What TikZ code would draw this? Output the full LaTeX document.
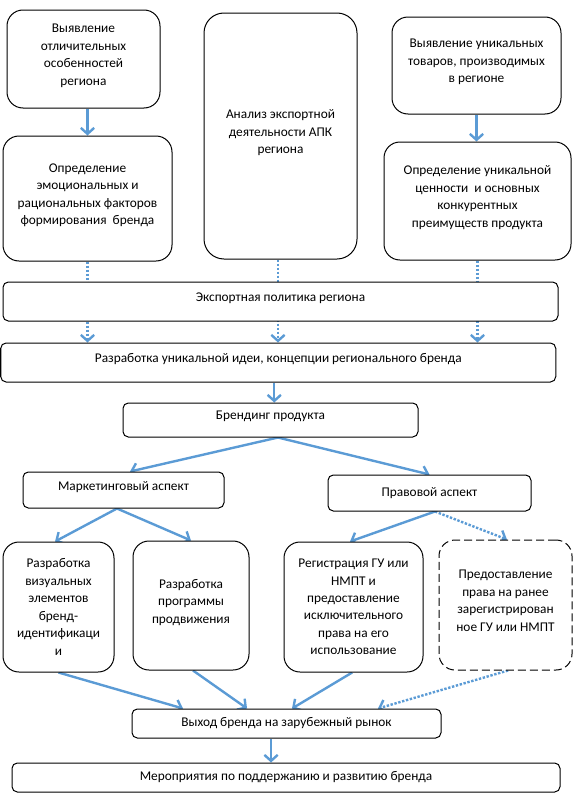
\documentclass[tikz,border=0pt]{standalone}
\usepackage{fontspec}
\setmainfont{Carlito}
\usetikzlibrary{arrows.meta,backgrounds}
\definecolor{arrblue}{RGB}{91,155,213}
\begin{document}
\begin{tikzpicture}[x=0.75pt,y=-0.75pt,
  sz/.style 2 args={minimum width=#1*0.75pt, minimum height=#2*0.75pt},
  box/.style={draw=black, line width=0.75pt, fill=white, align=center, inner sep=0pt,
    font=\fontsize{10pt}{13.1pt}\selectfont},
  txtup/.style={execute at end node={\rule[-6.5pt]{0pt}{0pt}}},
  rbig/.style={rounded corners=12pt},
  rtall/.style={rounded corners=15pt},
  rsmall/.style={rounded corners=4pt},
  dashbox/.style={dash pattern=on 6pt off 3pt},
  conn/.style={draw=arrblue, line width=1.8pt, -{Straight Barb[length=4.5pt,width=10pt]}},
  dotconn/.style={conn, dash pattern=on 1.8pt off 1.2pt}]
\useasboundingbox (0,0) rectangle (580,796);
% top row
\node[box,txtup,rbig,sz={153}{98}] (n1) at (83.5,59) {Выявление\\отличительных\\особенностей\\региона};
\node[box,txtup,rbig,sz={169}{125}] (n2) at (87.5,198.5) {Определение\\эмоциональных и\\рациональных факторов\\формирования\ \ бренда};
\node[box,txtup,rtall,sz={153}{246}] (n3) at (280.5,136) {Анализ экспортной\\деятельности АПК\\региона};
\node[box,txtup,rbig,sz={169}{97}] (n4) at (476.5,65.5) {Выявление уникальных\\товаров, производимых\\в регионе};
\node[box,txtup,rbig,sz={187}{118}] (n5) at (477.5,201) {Определение уникальной\\ценности\ \ и основных\\конкурентных\\преимуществ продукта};
% wide boxes
\node[box,txtup,rsmall,sz={555}{39}] (n6) at (280.5,301.5) {Экспортная политика региона};
\node[box,txtup,rsmall,sz={555}{39}] (n7) at (278.25,362.5) {Разработка уникальной идеи, концепции регионального бренда};
\node[box,txtup,rsmall,sz={295}{34}] (n8) at (270.5,420) {Брендинг продукта};
\node[box,txtup,rsmall,sz={201}{36}] (n9) at (123.5,490) {Маркетинговый аспект};
\node[box,rsmall,sz={203}{36}] (n10) at (429.5,493) {Правовой аспект};
% bottom row
\node[box,rbig,sz={111}{130}] (n11) at (58.5,607) {Разработка\\визуальных\\элементов\\бренд-\\идентификаци\\и};
\node[box,txtup,rbig,sz={116}{129}] (n12) at (191,605.5) {Разработка\\программы\\продвижения};
\node[box,rbig,sz={139}{130}] (n13) at (353.5,607) {Регистрация ГУ или\\НМПТ и\\предоставление\\исключительного\\права на его\\использование};
\node[box,txtup,rbig,dashbox,sz={133}{130}] (n14) at (505.5,605) {Предоставление\\права на ранее\\зарегистрирован\\ное ГУ или НМПТ};
\node[box,rsmall,sz={309}{29}] (n15) at (286.5,723.5) {Выход бренда на зарубежный рынок};
\node[box,rsmall,sz={548}{29}] (n16) at (286,777.5) {Мероприятия по поддержанию и развитию бренда};
% connectors
\begin{scope}[on background layer]
\draw[conn] (n2.north |- n1.south) -- (n2.north);
\draw[conn] (n4.south) -- (n4.south |- n5.north);
\draw[dotconn] (n2.south) -- (n2.south |- n7.north);
\draw[dotconn] ([xshift=-1.9pt]n3.south) -- ([xshift=-1.9pt]n3.south |- n7.north);
\draw[dotconn] (n5.south) -- (n5.south |- n7.north);
\draw[conn] ([xshift=-3pt]n7.south) -- ([xshift=-3pt]n7.south |- n8.north);
\draw[conn] ([xshift=5.6pt]n8.south) -- ([xshift=4.9pt]n9.north);
\draw[conn] ([xshift=5.6pt]n8.south) -- (n10.north);
\draw[conn] ([xshift=-4.9pt]n9.south) -- ([xshift=-2.6pt]n11.north);
\draw[conn] ([xshift=-4.9pt]n9.south) -- (n12.north);
\draw[conn] ([xshift=4.1pt]n10.south) -- ([xshift=-2.6pt]n13.north);
\draw[dotconn] ([xshift=4.1pt]n10.south) -- ([xshift=1.1pt]n14.north);
\draw[conn] (n11.south) -- ([xshift=-77.6pt]n15.north);
\draw[conn] ([xshift=1.5pt]n12.south) -- ([xshift=-29.6pt]n15.north);
\draw[conn] ([xshift=-1pt]n13.south) -- ([xshift=4.1pt]n15.north);
\draw[dotconn] ([xshift=1.9pt]n14.south) -- ([xshift=68.6pt]n15.north);
\draw[conn] ([xshift=-11.6pt]n15.south) -- ([xshift=-11.6pt]n15.south |- n16.north);
\end{scope}
\end{tikzpicture}
\end{document}
